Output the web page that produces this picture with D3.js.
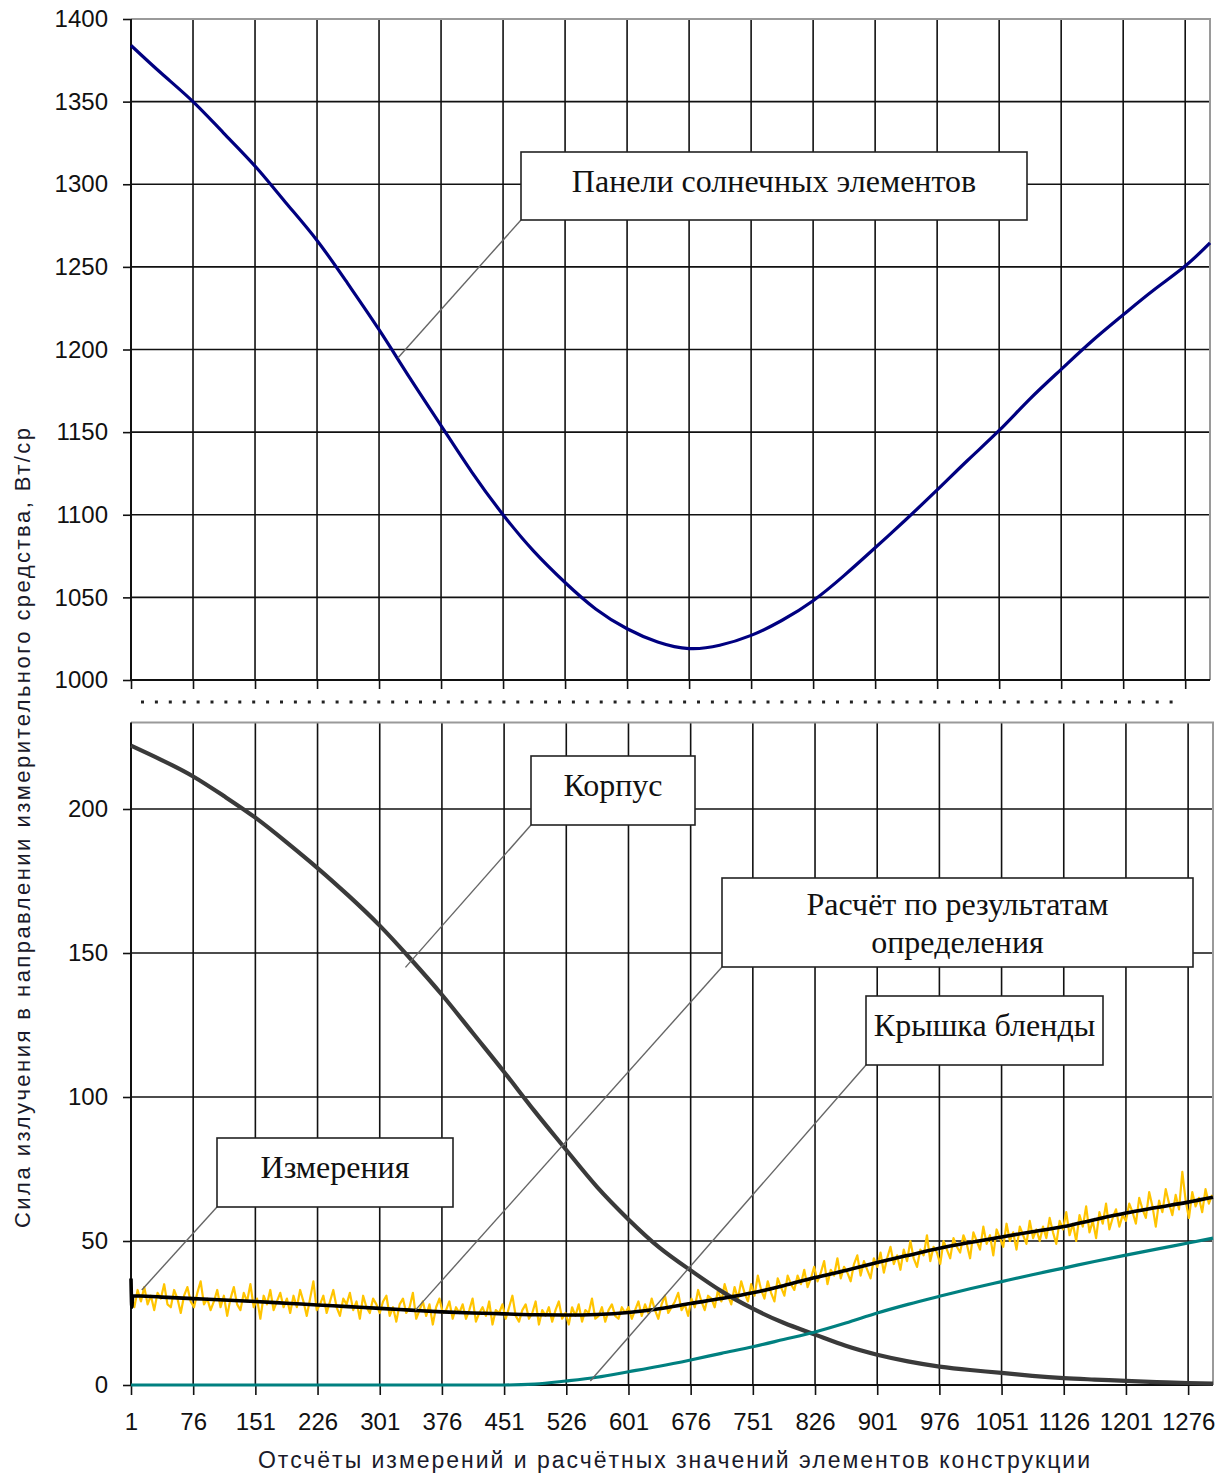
<!DOCTYPE html>
<html>
<head>
<meta charset="utf-8">
<script src="https://cdn.jsdelivr.net/npm/d3@7"></script>
<style>
  body { margin: 0; background: #fff; }
  svg { display: block; }
</style>
</head>
<body>
<div id="chart"></div>
<script>
// number of samples on the category axis
const N = 1306

// category tick labels (every 75 samples)
const xTicks = [1, 76, 151, 226, 301, 376, 451, 526, 601, 676, 751, 826, 901, 976, 1051, 1126, 1201, 1276]
const topTicks = [1000, 1050, 1100, 1150, 1200, 1250, 1300, 1350, 1400]
const botTicks = [0, 50, 100, 150, 200]

const cats = [1, 38, 76, 113, 151, 188, 226, 263, 301, 338, 376, 413, 451, 488, 526, 563, 601, 638,
  676, 713, 751, 788, 826, 863, 901, 938, 976, 1013, 1051, 1088, 1126, 1163, 1201, 1238, 1276, 1306]

// Панели солнечных элементов (top panel)
const panelVals = [1384, 1367, 1350, 1331, 1311, 1289, 1266, 1240, 1212, 1183, 1154, 1126, 1100, 1078, 1059, 1043, 1031, 1023,
  1019, 1021, 1027, 1036, 1048, 1063, 1080, 1097, 1115, 1133, 1151, 1170, 1188, 1205, 1221, 1236, 1250.5, 1264.5]

// Корпус
const bodyVals = [222, 217, 211.3, 204.5, 197, 188.6, 179.5, 170, 159.5, 148, 135.5, 122.3, 108.7, 95, 81.6, 68.8, 57.5, 47.8,
  39.8, 32.6, 26.5, 21.6, 17.5, 13.6, 10.5, 8.2, 6.4, 5.2, 4.2, 3.2, 2.4, 1.9, 1.4, 1.0, 0.7, 0.5]

// Расчёт по результатам определения (first samples jump a bit)
const calcHeadCats = [1, 2, 3]
const calcHeadVals = [37, 27, 31]
const calcVals = [31, 30.5, 30, 29.5, 29, 28.4, 27.8, 27.2, 26.6, 26, 25.4, 25, 24.7, 24.4, 24.3, 24.5, 25.2, 26.5,
  28.3, 30, 32, 34.5, 37.3, 39.8, 42.5, 45, 47.5, 49.5, 51.4, 53.2, 55, 57.4, 59.7, 61.6, 63.5, 65.2]

// Крышка бленды
const hoodVals = [0, 0, 0, 0, 0, 0, 0, 0, 0, 0, 0, 0, 0, 0.3, 1.4, 2.7, 4.6, 6.5,
  8.7, 11, 13.3, 15.8, 18.4, 21.5, 25, 28, 30.8, 33.4, 35.9, 38.3, 40.6, 42.9, 45.1, 47.2, 49.3, 51]

// Измерения, read every 4th sample
const measStep = 4
const measVals = [
  31,27,33,29,34,28,31,26,32,30,35,28,27,33,30,25,31,34,29,27,32,36,28,30,26,
  29,33,27,31,24,30,34,28,26,32,29,35,27,30,23,31,28,33,26,29,32,27,30,25,31,
  27,33,29,24,30,36,26,28,31,25,29,33,27,24,30,28,32,26,29,23,31,27,25,30,28,
  25,29,31,24,27,22,28,30,25,27,32,23,26,29,24,28,21,27,30,25,26,29,23,27,25,
  28,23,26,30,22,25,27,24,29,21,26,25,28,23,27,31,24,22,26,28,23,25,29,21,26,
  24,27,22,26,29,23,25,21,27,24,28,22,26,25,30,23,24,27,22,26,28,24,23,27,25,
  27,23,26,29,24,28,25,30,26,23,28,31,25,27,29,32,26,28,24,30,27,33,29,26,31,
  30,27,33,29,35,31,28,34,30,36,32,29,35,31,38,33,30,36,32,29,37,34,31,38,35,
  33,38,35,40,34,37,41,36,39,43,35,40,38,44,37,41,39,36,42,45,38,43,40,37,44,
  41,46,39,44,48,42,45,40,47,43,50,44,41,47,45,52,43,48,46,42,50,47,44,51,48,
  46,52,49,44,53,50,47,55,49,52,45,54,51,48,56,50,53,47,55,52,49,57,51,54,50,
  55,51,58,53,49,57,54,60,52,56,50,59,55,62,53,57,51,60,56,63,54,58,61,55,59,
  57,63,60,56,65,61,58,67,62,55,64,60,68,63,59,66,61,74,64,58,67,62,65,60,68,
  63,66]

// callout boxes: box in px, anchor in data units
const callouts = [
  {panel: 'top', lines: ['Панели солнечных элементов'], box: [521, 152, 506, 68], at: [324, 1195]},
  {panel: 'bot', lines: ['Корпус'], box: [531, 756, 164, 69], at: [332, 145]},
  {panel: 'bot', lines: ['Расчёт по результатам', 'определения'], box: [722, 878, 471, 89], at: [344, 26]},
  {panel: 'bot', lines: ['Крышка бленды'], box: [866, 996, 237, 69], at: [555, 1.4]},
  {panel: 'bot', lines: ['Измерения'], box: [217, 1138, 236, 69], at: [14, 33]}
]

const width = 1224, height = 1474
const sans = '"Liberation Sans", Arial, sans-serif'
const serif = '"Liberation Serif", "Times New Roman", serif'

const svg = d3.select('#chart').append('svg')
  .attr('width', width).attr('height', height)

const xTop = d3.scaleLinear().domain([1, N]).range([131, 1210])
const xBot = d3.scaleLinear().domain([1, N]).range([131, 1213])
const yTop = d3.scaleLinear().domain([1000, 1400]).range([680, 19])
const yBot = d3.scaleLinear().domain([0, 230]).range([1385, 722.6])

function panelFrame(x, y, yTickVals, withLabels) {
  const [x0, x1] = x.range()
  const [y0, y1] = y.range()
  const g = svg.append('g')

  // grid
  g.selectAll('.hgrid').data(yTickVals.filter(v => y(v) > y1 + 2 && y(v) < y0 - 2))
    .enter().append('line')
    .attr('x1', x0).attr('x2', x1)
    .attr('y1', d => y(d)).attr('y2', d => y(d))
    .attr('stroke', '#111').attr('stroke-width', 1.6)
  g.selectAll('.vgrid').data(xTicks.slice(1))
    .enter().append('line')
    .attr('x1', d => x(d)).attr('x2', d => x(d))
    .attr('y1', y1).attr('y2', y0)
    .attr('stroke', '#111').attr('stroke-width', 1.6)

  // gray border top/right
  g.append('path')
    .attr('d', `M${x0},${y1}H${x1}V${y0}`)
    .attr('fill', 'none').attr('stroke', '#9a9a9a').attr('stroke-width', 2)

  // y axis
  const ya = g.append('g').attr('transform', `translate(${x0},0)`)
    .call(d3.axisLeft(y).tickValues(yTickVals).tickSize(8).tickPadding(15).tickFormat(d3.format('d')))
  ya.select('.domain').remove()
  ya.selectAll('line').attr('stroke', '#111').attr('stroke-width', 1.6)
  ya.selectAll('text').attr('font-family', sans).attr('font-size', 24).attr('fill', '#111')

  // x axis
  const xa = g.append('g').attr('transform', `translate(0,${y0})`)
    .call(d3.axisBottom(x).tickValues(xTicks).tickSize(withLabels ? 10 : 9).tickPadding(18)
      .tickFormat(withLabels ? d3.format('d') : ''))
  xa.select('.domain').remove()
  xa.selectAll('line').attr('stroke', '#111').attr('stroke-width', 1.6)
  xa.selectAll('text').attr('font-family', sans).attr('font-size', 24).attr('fill', '#111')

  // axis lines
  g.append('path')
    .attr('d', `M${x0},${y1}V${y0}H${x1}`)
    .attr('fill', 'none').attr('stroke', '#111').attr('stroke-width', 2)
  return g
}

panelFrame(xTop, yTop, topTicks, false)
panelFrame(xBot, yBot, botTicks, true)

// break marker between the panels
svg.append('line')
  .attr('x1', 141).attr('x2', 1182).attr('y1', 702).attr('y2', 702)
  .attr('stroke', '#222').attr('stroke-width', 3).attr('stroke-dasharray', '3,10.9')

function drawLine(xs, ys, x, y, color, w, curve) {
  const pts = xs.map((c, i) => [c, ys[i]])
  svg.append('path').datum(pts)
    .attr('d', d3.line().x(d => x(d[0])).y(d => y(d[1])).curve(curve))
    .attr('fill', 'none').attr('stroke', color).attr('stroke-width', w)
    .attr('stroke-linejoin', 'round')
}

// top panel
drawLine(cats, panelVals, xTop, yTop, '#000080', 3.2, d3.curveNatural)

// bottom panel
const measCats = measVals.map((v, i) => 1 + i * measStep)
drawLine(measCats, measVals, xBot, yBot, '#ffc400', 2.2, d3.curveLinear)
drawLine(cats, bodyVals, xBot, yBot, '#3a3a3a', 4.2, d3.curveNatural)
drawLine(cats, hoodVals, xBot, yBot, '#008080', 3.2, d3.curveMonotoneX)
drawLine(calcHeadCats.concat(cats.slice(1)), calcHeadVals.concat(calcVals.slice(1)), xBot, yBot, '#000', 3.6, d3.curveMonotoneX)

// callouts
callouts.forEach(c => {
  const x = c.panel === 'top' ? xTop : xBot
  const y = c.panel === 'top' ? yTop : yBot
  const [bx, by, bw, bh] = c.box
  svg.append('line')
    .attr('x1', bx).attr('y1', by + bh)
    .attr('x2', x(c.at[0])).attr('y2', y(c.at[1]))
    .attr('stroke', '#666').attr('stroke-width', 1.4)
  svg.append('rect')
    .attr('x', bx).attr('y', by).attr('width', bw).attr('height', bh)
    .attr('fill', '#fff').attr('stroke', '#222').attr('stroke-width', 1.6)
  c.lines.forEach((t, i) => {
    svg.append('text')
      .attr('x', bx + bw / 2)
      .attr('y', by + (c.lines.length > 1 ? 37 + i * 38 : 40))
      .attr('text-anchor', 'middle')
      .attr('font-family', serif).attr('font-size', 32).attr('fill', '#111')
      .text(t)
  })
})

// axis titles
svg.append('text')
  .attr('x', 674).attr('y', 1468)
  .attr('text-anchor', 'middle')
  .attr('font-family', sans).attr('font-size', 23).attr('fill', '#1a1a2a')
  .attr('textLength', 832).attr('lengthAdjust', 'spacing')
  .text('Отсчёты измерений и расчётных значений  элементов конструкции')

svg.append('text')
  .attr('transform', 'translate(30,828) rotate(-90)')
  .attr('text-anchor', 'middle')
  .attr('font-family', sans).attr('font-size', 22).attr('fill', '#1a1a2a')
  .attr('textLength', 800).attr('lengthAdjust', 'spacing')
  .text('Сила излучения в направлении  измерительного  средства, Вт/ср')
</script>
</body>
</html>
